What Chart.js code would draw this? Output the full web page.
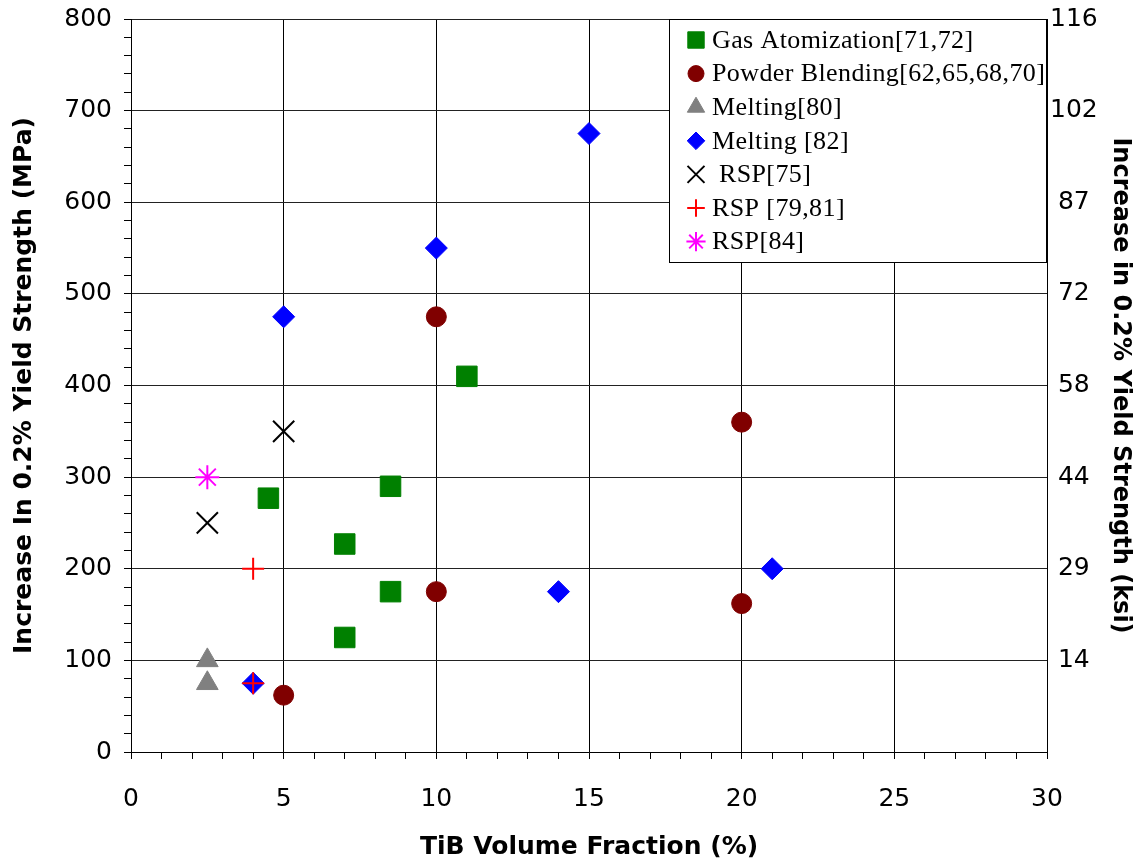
<!DOCTYPE html>
<html>
<head>
<meta charset="utf-8">
<script src="https://cdn.jsdelivr.net/npm/chart.js@4.4.1/dist/chart.umd.min.js"></script>
<style>
  body { margin: 0; background: #fff; }
  #wrap { width: 1143px; height: 867px; }
</style>
</head>
<body>
<div id="wrap"><canvas id="yieldChart" width="1143" height="867"></canvas></div>
<script>
// values (x = TiB vol %, y = MPa)
const gasX = [4.5, 7, 7, 8.5, 8.5, 11];
const gasY = [277, 227, 125, 290, 175, 410];
const blendX = [5, 10, 10, 20, 20];
const blendY = [62, 475, 175, 360, 162];
const melt80X = [2.5, 2.5];
const melt80Y = [100, 75];
const melt82X = [4, 5, 10, 14, 15, 21];
const melt82Y = [75, 475, 550, 175, 675, 200];
const rsp75X = [2.5, 5];
const rsp75Y = [250, 350];
const rsp7981X = [4, 4];
const rsp7981Y = [200, 75];
const rsp84X = [2.5];
const rsp84Y = [300];
const ksiTicks = ['', '14', '29', '44', '58', '72', '87', '102', '116'];

function pts(xs, ys) {
    return xs.map((x, i) => ({ x: x, y: ys[i] }));
}

const series = [
    { label: 'Gas Atomization[71,72]', data: pts(gasX, gasY), style: 'rect', r: 14.5, color: '#008000', bw: 1 },
    { label: 'Powder Blending[62,65,68,70]', data: pts(blendX, blendY), style: 'circle', r: 10, color: '#800000', bw: 1 },
    { label: 'Melting[80]', data: pts(melt80X, melt80Y), style: 'triangle', r: 12.5, color: '#808080', bw: 1 },
    { label: 'Melting [82]', data: pts(melt82X, melt82Y), style: 'rectRot', r: 11, color: '#0000ff', bw: 1 },
    { label: ' RSP[75]', data: pts(rsp75X, rsp75Y), style: 'crossRot', r: 15, color: '#000000', bw: 2 },
    { label: 'RSP [79,81]', data: pts(rsp7981X, rsp7981Y), style: 'cross', r: 11, color: '#ff0000', bw: 2 },
    { label: 'RSP[84]', data: pts(rsp84X, rsp84Y), style: 'star', r: 12, color: '#ff00ff', bw: 2 },
];

// boxed legend drawn inside the plot, top right
const boxLegend = {
    id: 'boxLegend',
    afterDraw(chart) {
        const ctx = chart.ctx;
        const area = chart.chartArea;
        const left = 669, top = area.top, right = area.right, bottom = 262;
        ctx.save();
        ctx.fillStyle = '#fff';
        ctx.fillRect(left, top, right - left, bottom - top);
        ctx.strokeStyle = '#000';
        ctx.lineWidth = 1;
        ctx.strokeRect(left + 0.5, top + 0.5, right - left - 1, bottom - top);
        ctx.font = '26px "Liberation Serif", "Times New Roman", serif';
        ctx.letterSpacing = '0.4px';
        ctx.textBaseline = 'middle';
        chart.data.datasets.forEach((ds, i) => {
            const y = 40 + i * 33.6;
            ctx.fillStyle = ds.backgroundColor;
            ctx.strokeStyle = ds.borderColor;
            ctx.lineWidth = ds.borderWidth;
            Chart.helpers.drawPoint(ctx, {
                pointStyle: ds.pointStyle,
                radius: ds.pointRadius * 0.8,
                rotation: 0,
                borderWidth: ds.borderWidth
            }, 696, y);
            ctx.fillStyle = '#000';
            ctx.fillText(ds.label, 712, y + 1);
        });
        ctx.restore();
    }
};

// keep the axis boxes fixed so the plot area lands where the figure has it
function fixY(width) {
    return (s) => { s.width = width; s.paddingTop = 0; s.paddingBottom = 0; };
}

const ctx = document.getElementById('yieldChart').getContext('2d');

new Chart(ctx, {
    type: 'scatter',
    data: {
        datasets: series.map((s, i) => ({
            label: s.label,
            data: s.data,
            pointStyle: s.style,
            pointRadius: s.r,
            pointHoverRadius: s.r,
            backgroundColor: s.color,
            borderColor: s.color,
            borderWidth: s.bw,
            order: series.length - i,
            yAxisID: 'y',
        }))
    },
    options: {
        responsive: false,
        animation: false,
        clip: false,
        layout: { padding: { top: 19, left: 0, right: 0, bottom: 0 } },
        plugins: {
            legend: { display: false },
            tooltip: { enabled: false },
        },
        scales: {
            x: {
                type: 'linear',
                min: 0,
                max: 30,
                afterFit: (s) => { s.height = 115; s.paddingLeft = 0; s.paddingRight = 0; },
                ticks: {
                    stepSize: 1,
                    autoSkip: false,
                    maxTicksLimit: 100,
                    maxRotation: 0,
                    padding: 25,
                    color: '#000',
                    font: { family: 'DejaVu Sans', size: 25 },
                    callback: (v) => (v % 5 === 0 ? v : ''),
                },
                grid: {
                    color: (c) => (c.tick && c.tick.value % 5 === 0 ? '#000' : 'rgba(0,0,0,0)'),
                    tickColor: '#000',
                    tickLength: 7,
                    lineWidth: 1,
                },
                border: { display: true, color: '#000', width: 1 },
                title: {
                    display: true,
                    text: 'TiB Volume Fraction (%)',
                    color: '#000',
                    font: { family: 'DejaVu Sans', size: 25, weight: 'bold' },
                    padding: { top: 0, bottom: 5 },
                },
            },
            y: {
                type: 'linear',
                position: 'left',
                min: 0,
                max: 800,
                afterFit: fixY(131),
                ticks: {
                    stepSize: 20,
                    autoSkip: false,
                    maxTicksLimit: 100,
                    padding: 12,
                    color: '#000',
                    font: { family: 'DejaVu Sans', size: 25 },
                    callback: (v) => (v % 100 === 0 ? v : ''),
                },
                grid: {
                    color: (c) => (c.tick && c.tick.value % 100 === 0 ? '#222' : 'rgba(0,0,0,0)'),
                    tickColor: '#000',
                    tickLength: 7,
                    lineWidth: 1,
                },
                border: { display: true, color: '#000', width: 1 },
                title: {
                    display: true,
                    text: 'Increase In 0.2% Yield Strength (MPa)',
                    color: '#000',
                    font: { family: 'DejaVu Sans', size: 25, weight: 'bold' },
                    padding: { top: 9, bottom: 0 },
                },
            },
            y2: {
                type: 'linear',
                position: 'right',
                min: 0,
                max: 800,
                afterFit: fixY(96),
                ticks: {
                    stepSize: 100,
                    padding: 3,
                    crossAlign: 'center',
                    color: '#000',
                    font: { family: 'DejaVu Sans', size: 25 },
                    callback: (v) => ksiTicks[Math.round(v / 100)],
                },
                grid: { drawOnChartArea: false, drawTicks: false },
                border: { display: true, color: '#000', width: 1 },
                title: {
                    display: true,
                    text: 'Increase in 0.2% Yield Strength (ksi)',
                    color: '#000',
                    font: { family: 'DejaVu Sans', size: 24, weight: 'bold' },
                    padding: { top: 8, bottom: 0 },
                },
            },
        },
    },
    plugins: [boxLegend],
});
</script>
</body>
</html>
